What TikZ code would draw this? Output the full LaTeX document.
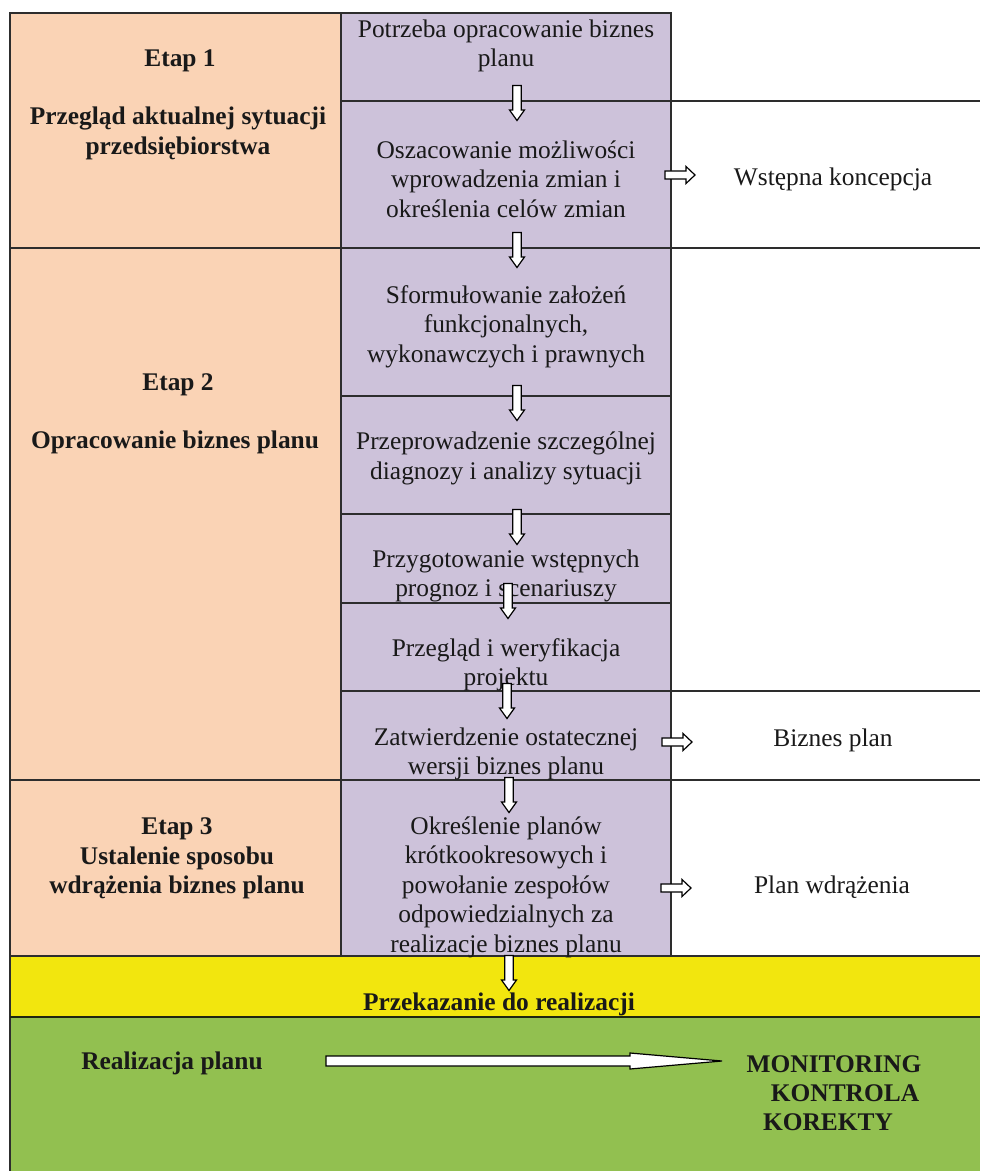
\documentclass[tikz,border=0pt]{standalone}
\usepackage{fontspec}
\setmainfont{Liberation Serif}
\definecolor{peach}{RGB}{250,211,181}
\definecolor{lav}{RGB}{205,194,218}
\definecolor{yel}{RGB}{242,230,14}
\definecolor{grn}{RGB}{146,192,80}
\definecolor{rule}{RGB}{45,45,45}
\begin{document}
\begin{tikzpicture}[x=0.5pt,y=-0.5pt,
  grid/.style={draw=rule,line width=0.85pt},
  txt/.style={align=center,font=\fontsize{12.7}{14.75}\selectfont,text=black!90,inner sep=0pt,yshift=-1.2pt},
  btxt/.style={txt,font=\fontsize{12.7}{14.75}\selectfont\bfseries},
  arrline/.style={draw=black,fill=white,line width=0.6pt,line join=miter},
  downarr/.pic={\path[arrline] (-4.3,-17.5) -- (4.3,-17.5) -- (4.3,7) -- (7.5,7) -- (0,17.5) -- (-7.5,7) -- (-4.3,7) -- cycle;},
  rightarr/.pic={\path[arrline] (-15,-4) -- (6,-4) -- (6,-8.5) -- (15,0) -- (6,8.5) -- (6,4) -- (-15,4) -- cycle;}
]
\useasboundingbox (0,0) rectangle (980,1171);

% coloured bands
\fill[peach] (10,13) rectangle (341,956);
\fill[lav] (341,13) rectangle (671,956);
\fill[yel] (10,956) rectangle (980,1017);
\fill[grn] (10,1017) rectangle (980,1171);

% ruling
\draw[grid] (10,1171) -- (10,13) -- (671,13) -- (671,956);
\draw[grid] (341,13) -- (341,956);
\draw[grid] (341,101) -- (980,101);
\draw[grid] (10,248) -- (980,248);
\draw[grid] (341,396) -- (671,396);
\draw[grid] (341,514) -- (671,514);
\draw[grid] (341,603) -- (671,603);
\draw[grid] (341,691) -- (980,691);
\draw[grid] (10,780) -- (980,780);
\draw[grid] (10,956) -- (980,956);
\draw[grid,draw=black!80!grn] (10,1017) -- (980,1017);

% stages
\node[btxt] (e1) at (180,58) {Etap 1};
\node[btxt] (e1t) at (178,131) {Przegląd aktualnej sytuacji\\przedsiębiorstwa};
\node[btxt] (e2) at (178,382) {Etap 2};
\node[btxt] (e2t) at (175,440) {Opracowanie biznes planu};
\node[btxt] (e3) at (177,856) {Etap 3\\Ustalenie sposobu\\wdrążenia biznes planu};

% steps
\node[txt] (s1) at (506,43.5) {Potrzeba opracowanie biznes\\planu};
\node[txt] (s2) at (506,176.5) {Oszacowanie możliwości\\wprowadzenia zmian i\\określenia celów zmian};
\node[txt] (s3) at (506,324) {Sformułowanie założeń\\funkcjonalnych,\\wykonawczych i prawnych};
\node[txt] (s4) at (506,456) {Przeprowadzenie szczególnej\\diagnozy i analizy sytuacji};
\node[txt] (s5) at (506,573.5) {Przygotowanie wstępnych\\prognoz i scenariuszy};
\node[txt] (s6) at (506,662.5) {Przegląd i weryfikacja\\projektu};
\node[txt] (s7) at (506,751.5) {Zatwierdzenie ostatecznej\\wersji biznes planu};
\node[txt] (s8) at (506,884.5) {Określenie planów\\krótkookresowych i\\powołanie zespołów\\odpowiedzialnych za\\realizacje biznes planu};

% outcomes
\node[txt] (o1) at (833,177) {Wstępna koncepcja};
\node[txt] (o2) at (833,738) {Biznes plan};
\node[txt] (o3) at (832,885) {Plan wdrążenia};

% hand-over and execution
\node[btxt] (hand) at (499,1002) {Przekazanie do realizacji};
\node[btxt] (real) at (172,1061) {Realizacja planu};
\node[btxt] (mon) at (834,1062) {MONITORING};
\node[btxt] (kon) at (845,1091) {KONTROLA};
\node[btxt] (kor) at (828,1120) {KOREKTY};

% flow arrows
\pic at (517,103) {downarr};
\pic at (517,250) {downarr};
\pic at (517,403) {downarr};
\pic at (517,527) {downarr};
\pic at (508,601) {downarr};
\pic at (507,701) {downarr};
\pic at (509,795) {downarr};
\pic at (509,973) {downarr};
\pic at (680,175) {rightarr};
\pic at (677,742) {rightarr};
\pic at (676,888) {rightarr};

% long arrow towards monitoring
\coordinate (ra) at (326,1061);
\path[arrline] (ra) ++(0,-5) -- (630,1056) -- (630,1053) -- (722,1061) -- (630,1069) -- (630,1066) -- (326,1066) -- cycle;
\end{tikzpicture}
\end{document}
